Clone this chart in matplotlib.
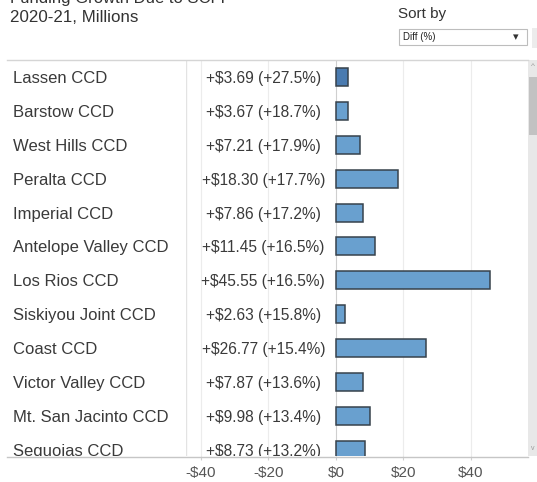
import matplotlib
matplotlib.use("Agg")
import matplotlib.pyplot as plt
from matplotlib.patches import Rectangle
from matplotlib.lines import Line2D
import matplotlib.transforms as mtransforms

plt.rcParams['font.family'] = ['Liberation Sans', 'DejaVu Sans']

districts = ["Lassen CCD", "Barstow CCD", "West Hills CCD", "Peralta CCD",
             "Imperial CCD", "Antelope Valley CCD", "Los Rios CCD",
             "Siskiyou Joint CCD", "Coast CCD", "Victor Valley CCD",
             "Mt. San Jacinto CCD", "Sequoias CCD"]
diff_millions = [3.69, 3.67, 7.21, 18.30, 7.86, 11.45, 45.55, 2.63, 26.77, 7.87, 9.98, 8.73]
diff_pct = [27.5, 18.7, 17.9, 17.7, 17.2, 16.5, 16.5, 15.8, 15.4, 13.6, 13.4, 13.2]
x_ticks = [-40, -20, 0, 20, 40]
x_tick_labels = ["-$40", "-$20", "$0", "$20", "$40"]

W, H = 537, 482
fig = plt.figure(figsize=(W / 100, H / 100), dpi=100)

def fx(px):
    return px / W

def fy(py):
    return 1 - py / H

# main (bar) axes
ax = fig.add_axes([fx(186), fy(456), fx(528) - fx(186), fy(60) - fy(456)])
# names pane
axn = fig.add_axes([fx(7), fy(456), fx(186) - fx(7), fy(60) - fy(456)])

n = len(districts)
ypos = list(range(n))
colors = ["#4a7bb0"] + ["#69a0cf"] * (n - 1)
ax.barh(ypos, diff_millions, height=0.53, color=colors, edgecolor="#37424c",
        linewidth=1.1, zorder=3)

ax.set_xlim(-44.44, 56.9)
ax.set_ylim(11.18, -0.5)
axn.set_xlim(0, 1)
axn.set_ylim(11.18, -0.5)

for a in (ax, axn):
    a.set_yticks([])
    for s in a.spines.values():
        s.set_visible(False)
axn.set_xticks([])

ax.set_xticks(x_ticks)
ax.set_xticklabels(x_tick_labels)
ax.tick_params(axis='x', length=3, color="#d0d0d0", labelcolor="#555555",
               labelsize=11, pad=4)
for t in x_ticks:
    ax.axvline(t, color="#cfcfcf" if t == 0 else "#ececec", lw=0.8, zorder=1)
ax.axvline(-44.44, color="#e3e3e3", lw=1.0, zorder=1)

trans = mtransforms.blended_transform_factory(ax.transAxes, ax.transData)
trans = mtransforms.offset_copy(trans, fig=fig, x=0, y=-1.5, units='dots')
transn = mtransforms.offset_copy(axn.transData, fig=fig, x=0, y=-1.5, units='dots')
for i, (d, p) in enumerate(zip(diff_millions, diff_pct)):
    ax.text(0.226, i, f"+${d:.2f} (+{p:.1f}%)", transform=trans, ha='center',
            va='center', fontsize=11.2, color="#3a3a3a", clip_on=True)
    axn.text(0.036, i, districts[i], transform=transn, ha='left', va='center',
             fontsize=12, color="#3a3a3a", clip_on=True)

# header texts
fig.text(fx(10), fy(3.5), "Funding Growth Due to SCFF", fontsize=12,
         color="#333333", ha='left', va='baseline')
fig.text(fx(10), fy(18), "2020-21, Millions", fontsize=12.2, color="#333333",
         ha='left', va='center')
fig.text(fx(398), fy(14), "Sort by", fontsize=11, color="#333333",
         ha='left', va='center')

# dropdown
fig.patches.append(Rectangle((fx(399), fy(45)), fx(527) - fx(399), fy(29) - fy(45),
                             transform=fig.transFigure, facecolor="white",
                             edgecolor="#bdbdbd", lw=0.8))
fig.text(fx(403), fy(37), "Diff (%)", fontsize=7, color="#222222",
         ha='left', va='center')
fig.text(fx(516), fy(37.5), "▾", fontsize=8, color="#333333",
         ha='center', va='center', family=['DejaVu Sans'])
fig.patches.append(Rectangle((fx(532), fy(48)), fx(537) - fx(532), fy(28) - fy(48),
                             transform=fig.transFigure, facecolor="#ececec",
                             edgecolor="none"))

# horizontal separators
fig.lines.append(Line2D([fx(7), fx(528)], [fy(59.5), fy(59.5)],
                        transform=fig.transFigure, color="#d5d5d5", lw=1.0))
fig.lines.append(Line2D([fx(7), fx(528)], [fy(456.5), fy(456.5)],
                        transform=fig.transFigure, color="#c6c6c6", lw=1.0))

# scrollbar
fig.patches.append(Rectangle((fx(528), fy(456)), fx(537) - fx(528), fy(60) - fy(456),
                             transform=fig.transFigure, facecolor="#e8e8e8",
                             edgecolor="none"))
fig.patches.append(Rectangle((fx(529), fy(135)), fx(537) - fx(529), fy(77) - fy(135),
                             transform=fig.transFigure, facecolor="#c2c2c2",
                             edgecolor="none"))
fig.text(fx(533), fy(66), "^", fontsize=6, color="#9a9a9a", ha='center', va='center')
fig.text(fx(533), fy(449), "v", fontsize=5, color="#9a9a9a", ha='center', va='center')

fig.savefig("out.png", dpi=100)
